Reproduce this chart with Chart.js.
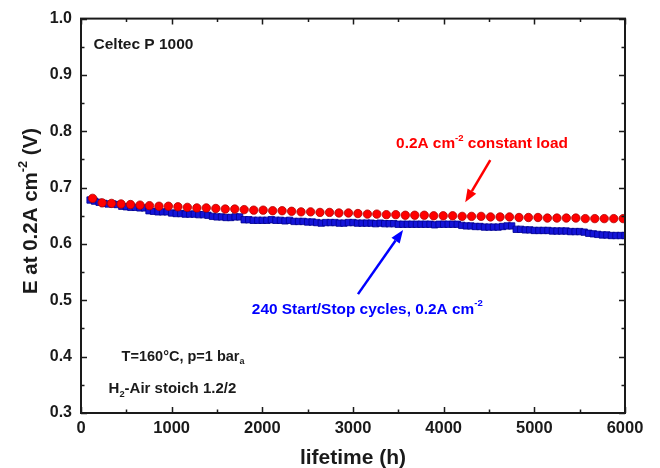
<!DOCTYPE html>
<html lang="en">
  <head>
    <meta charset="UTF-8" />
    <title>Celtec P 1000 lifetime</title>
    <script src="https://cdn.jsdelivr.net/npm/chart.js@4.4.1/dist/chart.umd.min.js"></script>
    <style>
      body {
        margin: 0;
        background: #fff;
      }
      .wrap {
        width: 660px;
        height: 468px;
      }
    </style>
  </head>
  <body>
    <div class="wrap"><canvas id="lifeChart"></canvas></div>
    <script>
      // constant load (red circles)
      const constHours = [
        128, 233, 337, 442, 546, 651, 755, 860, 964, 1069, 1173, 1278, 1382, 1487, 1591, 1696, 1800, 1905, 2009,
        2114, 2218, 2323, 2427, 2532, 2636, 2741, 2845, 2950, 3054, 3159, 3263, 3368, 3472, 3577, 3681, 3786, 3890,
        3995, 4099, 4204, 4308, 4413, 4517, 4622, 4726, 4831, 4935, 5040, 5144, 5249, 5353, 5458, 5562, 5667, 5771,
        5876, 5980,
      ];
      const constVolts = [
        0.681, 0.673, 0.672, 0.671, 0.67, 0.669, 0.668, 0.667, 0.667, 0.666, 0.665, 0.664, 0.664, 0.663, 0.662,
        0.662, 0.661, 0.66, 0.66, 0.659, 0.659, 0.658, 0.657, 0.657, 0.656, 0.656, 0.655, 0.655, 0.654, 0.653, 0.653,
        0.652, 0.652, 0.651, 0.651, 0.651, 0.65, 0.65, 0.65, 0.649, 0.649, 0.649, 0.648, 0.648, 0.648, 0.647, 0.647,
        0.647, 0.646, 0.646, 0.646, 0.646, 0.645, 0.645, 0.645, 0.645, 0.645,
      ];

      // start/stop cycling (blue squares)
      const cycleHours = [
        100, 150, 200, 250, 300, 350, 400, 450, 500, 550, 600, 650, 700, 750, 800, 850, 900, 950, 1000, 1050, 1100,
        1150, 1200, 1250, 1300, 1350, 1400, 1450, 1500, 1550, 1600, 1650, 1700, 1750, 1800, 1850, 1900, 1950, 2000,
        2050, 2100, 2150, 2200, 2250, 2300, 2350, 2400, 2450, 2500, 2550, 2600, 2650, 2700, 2750, 2800, 2850, 2900,
        2950, 3000, 3050, 3100, 3150, 3200, 3250, 3300, 3350, 3400, 3450, 3500, 3550, 3600, 3650, 3700, 3750, 3800,
        3850, 3900, 3950, 4000, 4050, 4100, 4150, 4200, 4250, 4300, 4350, 4400, 4450, 4500, 4550, 4600, 4650, 4700,
        4750, 4800, 4850, 4900, 4950, 5000, 5050, 5100, 5150, 5200, 5250, 5300, 5350, 5400, 5450, 5500, 5550, 5600,
        5650, 5700, 5750, 5800, 5850, 5900, 5950, 6000,
      ];
      const cycleVolts = [
        0.678, 0.676, 0.674, 0.672, 0.671, 0.671, 0.67, 0.667, 0.666, 0.665, 0.665, 0.664, 0.664, 0.659, 0.658,
        0.657, 0.657, 0.657, 0.655, 0.654, 0.654, 0.653, 0.653, 0.653, 0.652, 0.652, 0.651, 0.649, 0.648, 0.648,
        0.647, 0.647, 0.648, 0.648, 0.643, 0.643, 0.642, 0.642, 0.642, 0.642, 0.643, 0.642, 0.642, 0.641, 0.642,
        0.64, 0.64, 0.64, 0.639, 0.639, 0.638, 0.637, 0.638, 0.638, 0.638, 0.637, 0.637, 0.638, 0.638, 0.637, 0.637,
        0.637, 0.637, 0.636, 0.637, 0.636, 0.636, 0.636, 0.635, 0.635, 0.635, 0.635, 0.635, 0.635, 0.635, 0.635,
        0.634, 0.635, 0.635, 0.635, 0.635, 0.635, 0.633, 0.632, 0.632, 0.631, 0.631, 0.63, 0.63, 0.63, 0.63, 0.631,
        0.632, 0.632, 0.626, 0.626, 0.625, 0.625, 0.624, 0.624, 0.624, 0.624, 0.623, 0.623, 0.623, 0.623, 0.622,
        0.622, 0.622, 0.621, 0.619, 0.618, 0.617, 0.616, 0.616, 0.615, 0.615, 0.615, 0.615,
      ];

      const xMin = 0, xMax = 6000;
      const yMin = 0.3, yMax = 1.0;

      const FONT = "'Liberation Sans', Arial, sans-serif";

      // draws text made of pieces: ["text", ""|"sup"|"sub"]
      function richWidth(ctx, parts, size) {
        let w = 0;
        parts.forEach(([t, kind]) => {
          ctx.font = "bold " + (kind ? size * 0.62 : size) + "px " + FONT;
          w += ctx.measureText(t).width;
        });
        return w;
      }
      function drawRich(ctx, x, y, parts, size, color) {
        ctx.fillStyle = color;
        ctx.textBaseline = "middle";
        ctx.textAlign = "left";
        parts.forEach(([t, kind]) => {
          const s = kind ? size * 0.62 : size;
          ctx.font = "bold " + s + "px " + FONT;
          let dy = 0;
          if (kind === "sup") dy = -size * 0.38;
          if (kind === "sub") dy = size * 0.35;
          ctx.fillText(t, x, y + dy);
          x += ctx.measureText(t).width;
        });
      }
      function arrow(ctx, x1, y1, x2, y2, color) {
        const ang = Math.atan2(y2 - y1, x2 - x1);
        const head = 13, half = 5;
        const bx = x2 - head * Math.cos(ang), by = y2 - head * Math.sin(ang);
        ctx.strokeStyle = color;
        ctx.fillStyle = color;
        ctx.lineWidth = 2.5;
        ctx.beginPath();
        ctx.moveTo(x1, y1);
        ctx.lineTo(bx, by);
        ctx.stroke();
        ctx.beginPath();
        ctx.moveTo(x2, y2);
        ctx.lineTo(bx + half * Math.sin(ang), by - half * Math.cos(ang));
        ctx.lineTo(bx - half * Math.sin(ang), by + half * Math.cos(ang));
        ctx.closePath();
        ctx.fill();
      }

      const decorPlugin = {
        id: "decor",
        afterDatasetsDraw(chart) {
          const { ctx, chartArea, scales } = chart;
          const { left, right, top, bottom } = chartArea;
          const x = scales.x, y = scales.y;
          ctx.save();

          // frame
          ctx.strokeStyle = "#1a1a1a";
          ctx.lineWidth = 2;
          ctx.strokeRect(left, top, right - left, bottom - top);

          // inward ticks on all four sides
          ctx.lineWidth = 1.5;
          ctx.beginPath();
          for (let i = 0; i <= 12; i++) {
            const px = Math.round(x.getPixelForValue(i * 500)) + 0.5;
            const len = i % 2 === 0 ? 6 : 3.5;
            ctx.moveTo(px, bottom);
            ctx.lineTo(px, bottom - len);
            ctx.moveTo(px, top);
            ctx.lineTo(px, top + len);
          }
          for (let i = 0; i <= 14; i++) {
            const py = Math.round(y.getPixelForValue(yMin + i * 0.05)) + 0.5;
            const len = i % 2 === 0 ? 6 : 3.5;
            ctx.moveTo(left, py);
            ctx.lineTo(left + len, py);
            ctx.moveTo(right, py);
            ctx.lineTo(right - len, py);
          }
          ctx.stroke();

          // axis titles
          ctx.fillStyle = "#1a1a1a";
          ctx.font = "bold 21px " + FONT;
          ctx.textAlign = "center";
          ctx.textBaseline = "alphabetic";
          ctx.fillText("lifetime (h)", (left + right) / 2, 464);

          const yParts = [["E at 0.2A cm", ""], ["-2", "sup"], [" (V)", ""]];
          const yw = richWidth(ctx, yParts, 20.5);
          ctx.save();
          ctx.translate(31, 211);
          ctx.rotate(-Math.PI / 2);
          drawRich(ctx, -yw / 2, 0, yParts, 20.5, "#1a1a1a");
          ctx.restore();

          // annotations
          const P = (h, v) => [x.getPixelForValue(h), y.getPixelForValue(v)];
          let p = P(138, 0.954);
          drawRich(ctx, p[0], p[1], [["Celtec P 1000", ""]], 15.5, "#1a1a1a");

          p = P(3475, 0.777);
          drawRich(ctx, p[0], p[1], [["0.2A cm", ""], ["-2", "sup"], [" constant load", ""]], 15.4, "#ff0000");
          let a = P(4514, 0.749), b = P(4238, 0.674);
          arrow(ctx, a[0], a[1], b[0], b[1], "#ff0000");

          p = P(1884, 0.484);
          drawRich(ctx, p[0], p[1], [["240 Start/Stop cycles, 0.2A cm", ""], ["-2", "sup"]], 15.4, "#0000ff");
          a = P(3055, 0.511);
          b = P(3552, 0.625);
          arrow(ctx, a[0], a[1], b[0], b[1], "#0000ff");

          p = P(448, 0.4);
          drawRich(ctx, p[0], p[1], [["T=160°C, p=1 bar", ""], ["a", "sub"]], 14.5, "#1a1a1a");
          p = P(304, 0.342);
          drawRich(ctx, p[0], p[1], [["H", ""], ["2", "sub"], ["-Air stoich 1.2/2", ""]], 15, "#1a1a1a");

          ctx.restore();
        },
      };

      const ctx = document.getElementById("lifeChart").getContext("2d");
      new Chart(ctx, {
        type: "scatter",
        data: {
          datasets: [
            {
              label: "0.2A cm-2 constant load",
              data: constHours.map((h, i) => ({ x: h, y: constVolts[i] })),
              pointStyle: "circle",
              pointRadius: 4.2,
              backgroundColor: "#ff0000",
              borderColor: "#b00000",
              borderWidth: 0.8,
            },
            {
              label: "240 Start/Stop cycles, 0.2A cm-2",
              data: cycleHours.map((h, i) => ({ x: h, y: cycleVolts[i] })),
              pointStyle: "rect",
              pointRadius: 4.5,
              backgroundColor: "#1414d8",
              borderColor: "#000090",
              borderWidth: 0.8,
            },
          ],
        },
        options: {
          responsive: true,
          maintainAspectRatio: false,
          animation: false,
          layout: { padding: { top: 14, right: 35, left: 0, bottom: 0 } },
          plugins: {
            legend: { display: false },
            tooltip: { enabled: false },
          },
          scales: {
            x: {
              type: "linear",
              min: xMin,
              max: xMax,
              afterFit: (s) => {
                s.height = 55;
              },
              grid: { display: false, drawTicks: false },
              border: { display: false },
              ticks: {
                stepSize: 1000,
                padding: 6,
                color: "#1a1a1a",
                font: { family: FONT, size: 16.5, weight: "bold" },
                callback: (v) => String(v),
              },
            },
            y: {
              min: yMin,
              max: yMax,
              afterFit: (s) => {
                s.width = 81;
              },
              grid: { display: false, drawTicks: false },
              border: { display: false },
              ticks: {
                stepSize: 0.1,
                padding: 9,
                color: "#1a1a1a",
                font: { family: FONT, size: 16, weight: "bold" },
                callback: (v) => v.toFixed(1),
              },
            },
          },
        },
        plugins: [decorPlugin],
      });
    </script>
  </body>
</html>
